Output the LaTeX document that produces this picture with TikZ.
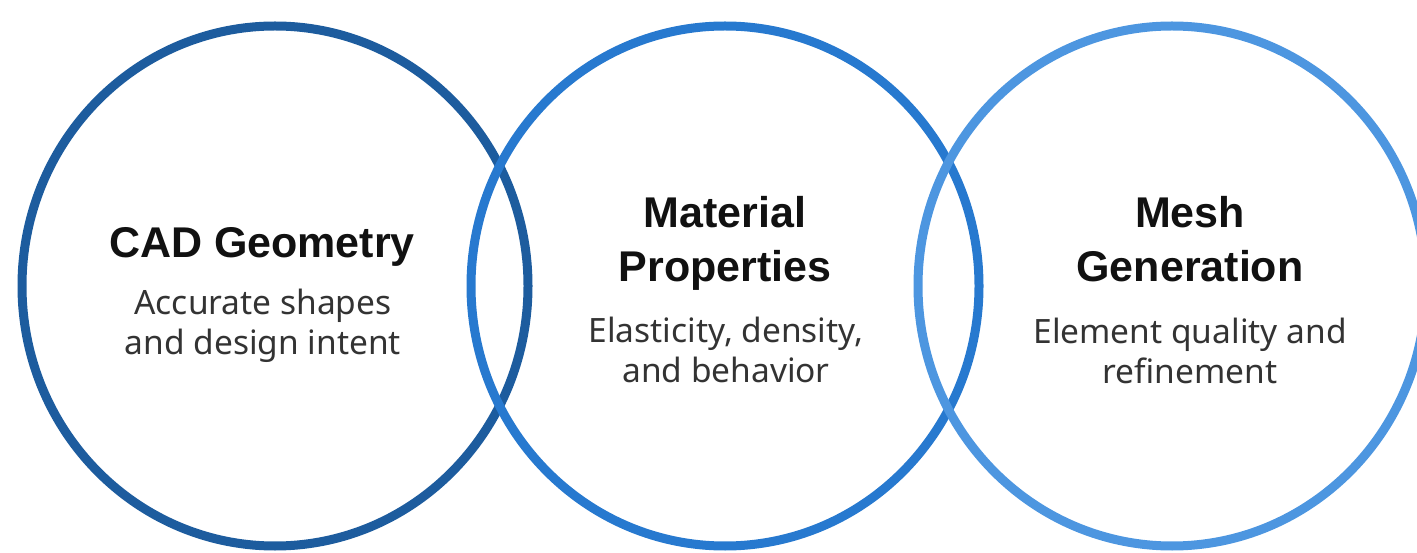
\documentclass[tikz,border=0pt]{standalone}
\usepackage{fontspec}
\setmainfont{Noto Sans}
\newfontfamily\titlefont{Liberation Sans}
\definecolor{ringA}{HTML}{1D5C9E}
\definecolor{ringB}{HTML}{2779CF}
\definecolor{ringC}{HTML}{4D96E0}
\definecolor{titlecol}{HTML}{111111}
\definecolor{desccol}{HTML}{333333}
\tikzset{
  ring/.style={line width=9pt},
  ttl/.style={anchor=base, inner sep=0pt, text=titlecol, font=\titlefont\bfseries\fontsize{43}{50}\selectfont},
  dsc/.style={anchor=base, inner sep=0pt, text=desccol, font=\fontsize{33.5}{40}\selectfont}
}
\begin{document}
\begin{tikzpicture}[x=1pt,y=-1pt]
\useasboundingbox (0,0) rectangle (1417,553);
\clip (0,0) rectangle (1417,553);
\draw[ring, ringA] (275,286) ellipse [x radius=253, y radius=260];
\draw[ring, ringB] (725,286) ellipse [x radius=254, y radius=260];
\draw[ring, ringC] (1172,286) ellipse [x radius=254, y radius=260];
% circle 1
\node[ttl] (t1) at (262,258) {CAD Geometry};
\node[dsc] (d1a) at (263,315) {Accurate shapes};
\node[dsc] (d1b) at (263,355) {and design intent};
% circle 2
\node[ttl] (t2a) at (725,228) {Material};
\node[ttl] (t2b) at (725,282) {Properties};
\node[dsc] (d2a) at (726,343) {Elasticity, density,};
\node[dsc] (d2b) at (726,383) {and behavior};
% circle 3
\node[ttl] (t3a) at (1190,228) {Mesh};
\node[ttl] (t3b) at (1190,282) {Generation};
\node[dsc] (d3a) at (1190,344) {Element quality and};
\node[dsc] (d3b) at (1190,384) {refinement};
\end{tikzpicture}
\end{document}
